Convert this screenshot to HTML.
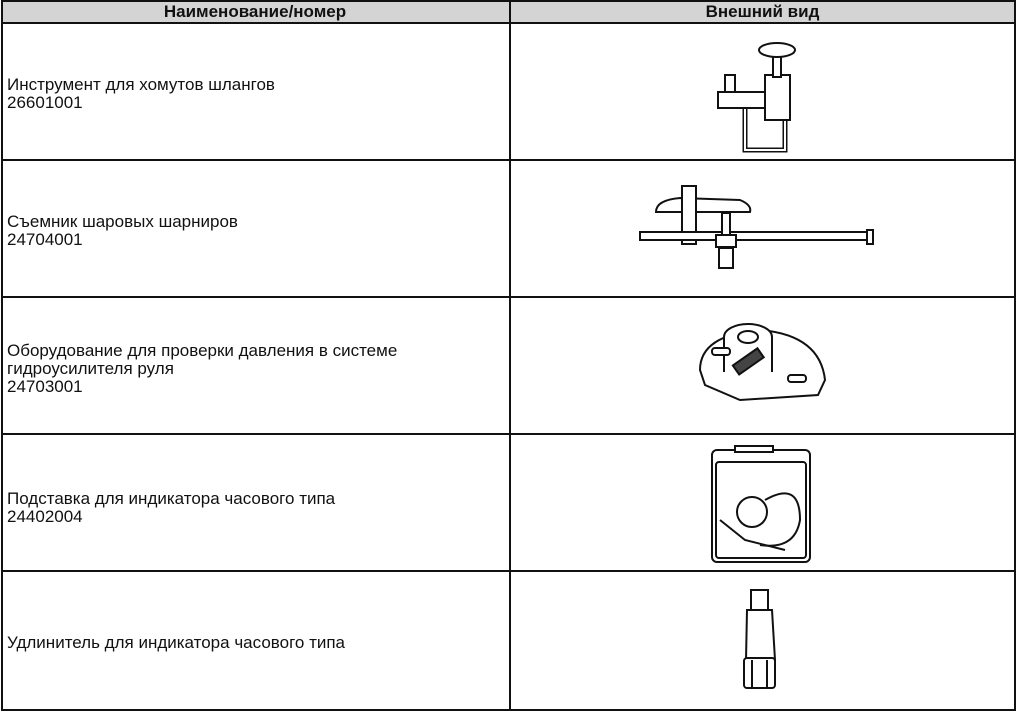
<!DOCTYPE html>
<html><head><meta charset="utf-8"><style>
body{margin:0;background:#fff;width:1018px;height:714px;overflow:hidden;font-family:"Liberation Sans",sans-serif;}
.t{position:absolute;left:7px;font-size:17px;line-height:18px;color:#111;}
.h{position:absolute;top:2px;font-size:17px;font-weight:bold;color:#111;}
</style></head><body>
<svg width="1018" height="714" style="position:absolute;left:0;top:0">
<rect x="2" y="1" width="1013" height="22" fill="#d4d4d4"/>
<g stroke="#111" stroke-width="2" fill="none">
<rect x="2" y="1" width="1013" height="709"/>
<line x1="510" y1="1" x2="510" y2="710"/>
<line x1="2" y1="23" x2="1015" y2="23"/>
<line x1="2" y1="160" x2="1015" y2="160"/>
<line x1="2" y1="297" x2="1015" y2="297"/>
<line x1="2" y1="434" x2="1015" y2="434"/>
<line x1="2" y1="571" x2="1015" y2="571"/>
</g>
<g stroke="#111" stroke-width="2" fill="#fff">
<path d="M745 95 L745 150 L785 150 L785 118" fill="none" stroke-width="5"/>
<path d="M745 95 L745 150 L785 150 L785 118" fill="none" stroke="#fff" stroke-width="2"/>
<rect x="718" y="92" width="60" height="16"/>
<rect x="765" y="75" width="25" height="45"/>
<rect x="773" y="55" width="8" height="22"/>
<ellipse cx="777" cy="50" rx="18" ry="7"/>
<path d="M725 92 L725 75 L735 75 L735 92" fill="none"/>
<path d="M656 212 Q656 200 680 198 L740 200 Q752 205 750 212 Z"/>
<rect x="682" y="186" width="14" height="58"/>
<rect x="640" y="232" width="228" height="8"/>
<rect x="867" y="230" width="6" height="14"/>
<rect x="722" y="213" width="8" height="46"/>
<rect x="719" y="248" width="14" height="20"/>
<rect x="716" y="235" width="20" height="12"/>
<path d="M700 370 Q700 335 760 330 Q820 335 825 380 L818 395 L740 400 L705 385 Z"/>
<ellipse cx="748" cy="337" rx="24" ry="13"/>
<rect x="724" y="337" width="48" height="35" stroke="none"/>
<line x1="724" y1="337" x2="724" y2="372"/><line x1="772" y1="337" x2="772" y2="372"/>
<ellipse cx="748" cy="337" rx="10" ry="6"/>
<rect x="733" y="356" width="30" height="11" transform="rotate(-35 748 361)" fill="#444"/>
<rect x="712" y="348" width="18" height="7" rx="3"/>
<rect x="788" y="375" width="18" height="7" rx="3"/>
<rect x="712" y="450" width="98" height="112" rx="5"/>
<rect x="716" y="462" width="90" height="96" rx="3"/>
<rect x="735" y="446" width="38" height="6"/>
<circle cx="752" cy="512" r="15"/>
<path d="M765 500 Q800 480 800 520 Q795 550 760 545" fill="none"/>
<path d="M720 520 L745 540 L785 550" fill="none"/>
<rect x="751" y="590" width="17" height="20"/>
<path d="M747 610 L772 610 L775 660 L746 660 Z"/>
<rect x="744" y="658" width="31" height="30" rx="3"/>
<line x1="752" y1="660" x2="752" y2="688"/>
<line x1="767" y1="660" x2="767" y2="688"/>
</g>
</svg>
<div class="h" style="left:0;width:510px;text-align:center">Наименование/номер</div>
<div class="h" style="left:510px;width:505px;text-align:center">Внешний вид</div>
<div class="t" style="top:76px">Инструмент для хомутов шлангов<br>26601001</div>
<div class="t" style="top:213px">Съемник шаровых шарниров<br>24704001</div>
<div class="t" style="top:342px">Оборудование для проверки давления в системе<br>гидроусилителя руля<br>24703001</div>
<div class="t" style="top:490px">Подставка для индикатора часового типа<br>24402004</div>
<div class="t" style="top:634px">Удлинитель для индикатора часового типа</div>
</body></html>
